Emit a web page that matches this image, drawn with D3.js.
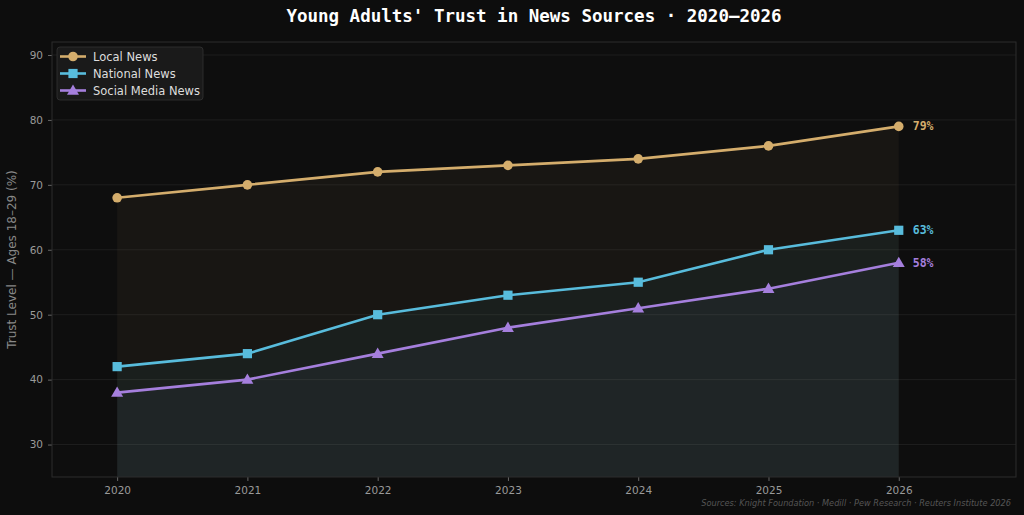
<!DOCTYPE html>
<html>
<head>
<meta charset="utf-8">
<script src="https://cdn.jsdelivr.net/npm/d3@7"></script>
<style>
  html, body { margin: 0; padding: 0; background: #0d0d0d; }
  svg { display: block; }
</style>
</head>
<body>
<svg width="1024" height="515"></svg>
<script>
const years = [2020, 2021, 2022, 2023, 2024, 2025, 2026]
const localNews = [68, 70, 72, 73, 74, 76, 79]
const nationalNews = [42, 44, 50, 53, 55, 60, 63]
const socialNews = [38, 40, 44, 48, 51, 54, 58]
const yTicks = [30, 40, 50, 60, 70, 80, 90]

const seriesList = [
  {name: 'Local News', values: localNews, color: '#d4ad6c', marker: 'circle'},
  {name: 'National News', values: nationalNews, color: '#58bcdc', marker: 'square'},
  {name: 'Social Media News', values: socialNews, color: '#a57fdd', marker: 'triangle'}
]

const svg = d3.select('svg')
const margin = {top: 42, right: 8, bottom: 38, left: 52}
const width = +svg.attr('width') - margin.left - margin.right
const height = +svg.attr('height') - margin.top - margin.bottom

svg.append('rect').attr('width', 1024).attr('height', 515).attr('fill', '#0d0d0d')

const g = svg.append('g').attr('transform', `translate(${margin.left},${margin.top})`)

const x = d3.scaleLinear().domain([2019.5, 2026.9]).range([0, width])
const y = d3.scaleLinear().domain([25, 92]).range([height, 0])

g.append('rect').attr('width', width).attr('height', height).attr('fill', '#0e0e0e')

// grid
g.append('g')
  .selectAll('line')
  .data(yTicks)
  .join('line')
  .attr('x1', 0).attr('x2', width)
  .attr('y1', (d) => y(d)).attr('y2', (d) => y(d))
  .attr('stroke', '#222')
  .attr('stroke-width', 0.8)

// fills
const area = d3.area()
  .x((d, i) => x(years[i]))
  .y0(y(25))
  .y1((d) => y(d))

const fillColors = ['#d4ad6c', '#4fd0e0', '#8aa0d0']
seriesList.forEach((s, i) => {
  g.append('path')
    .datum(s.values)
    .attr('d', area)
    .attr('fill', fillColors[i])
    .attr('fill-opacity', 0.05)
})

// axes
const xAxis = g.append('g')
  .attr('transform', `translate(0,${height})`)
  .call(d3.axisBottom(x).tickValues(years).tickFormat(d3.format('d')).tickSize(4).tickPadding(6))
const yAxis = g.append('g')
  .call(d3.axisLeft(y).tickValues(yTicks).tickSize(4).tickPadding(5))

;[xAxis, yAxis].forEach((a) => {
  a.select('.domain').remove()
  a.selectAll('.tick line').attr('stroke', '#666')
  a.selectAll('.tick text')
    .attr('fill', '#9a9a9a')
    .style('font-family', 'DejaVu Sans, sans-serif')
    .style('font-size', '10.5px')
})

// spines
g.append('rect')
  .attr('width', width).attr('height', height)
  .attr('fill', 'none')
  .attr('stroke', '#2c2c2c')
  .attr('stroke-width', 1)

// lines + markers
const line = d3.line()
  .x((d, i) => x(years[i]))
  .y((d) => y(d))

function drawMarker (sel, type, color, cx, cy) {
  if (type === 'circle') {
    sel.append('circle').attr('cx', cx).attr('cy', cy).attr('r', 4.8).attr('fill', color)
  } else if (type === 'square') {
    sel.append('rect').attr('x', cx - 4.6).attr('y', cy - 4.6).attr('width', 9.2).attr('height', 9.2).attr('fill', color)
  } else {
    sel.append('path')
      .attr('d', d3.symbol().type(d3.symbolTriangle).size(62)())
      .attr('transform', `translate(${cx},${cy + 0.8})`)
      .attr('fill', color)
  }
}

seriesList.forEach((s) => {
  g.append('path')
    .datum(s.values)
    .attr('d', line)
    .attr('fill', 'none')
    .attr('stroke', s.color)
    .attr('stroke-width', 2.6)
  const mg = g.append('g')
  s.values.forEach((v, i) => drawMarker(mg, s.marker, s.color, x(years[i]), y(v)))

  const last = s.values[s.values.length - 1]
  g.append('text')
    .attr('x', x(years[years.length - 1]) + 14)
    .attr('y', y(last))
    .attr('dy', '0.35em')
    .attr('fill', s.color)
    .style('font-family', 'DejaVu Sans Mono, monospace')
    .style('font-weight', 'bold')
    .style('font-size', '11.5px')
    .text(last + '%')
})

// legend
const legend = g.append('g').attr('transform', 'translate(5,5)')
legend.append('rect')
  .attr('width', 146).attr('height', 53)
  .attr('rx', 3)
  .attr('fill', '#1a1a1a')
  .attr('stroke', '#333')
  .attr('stroke-width', 0.8)
seriesList.forEach((s, i) => {
  const ly = 9.5 + i * 17
  legend.append('line')
    .attr('x1', 3).attr('x2', 29)
    .attr('y1', ly).attr('y2', ly)
    .attr('stroke', s.color).attr('stroke-width', 2.6)
  drawMarker(legend, s.marker, s.color, 16, ly)
  legend.append('text')
    .attr('x', 36).attr('y', ly)
    .attr('dy', '0.35em')
    .attr('fill', '#dddddd')
    .style('font-family', 'DejaVu Sans, sans-serif')
    .style('font-size', '11.5px')
    .text(s.name)
})

// y label
svg.append('text')
  .attr('transform', `translate(16,${margin.top + height / 2}) rotate(-90)`)
  .attr('text-anchor', 'middle')
  .attr('fill', '#888')
  .style('font-family', 'DejaVu Sans, sans-serif')
  .style('font-size', '12px')
  .text('Trust Level — Ages 18–29 (%)')

// title
svg.append('text')
  .attr('x', margin.left + width / 2)
  .attr('y', 22)
  .attr('text-anchor', 'middle')
  .attr('fill', '#ffffff')
  .style('font-family', 'DejaVu Sans Mono, monospace')
  .style('font-weight', 'bold')
  .style('font-size', '17.5px')
  .text("Young Adults' Trust in News Sources · 2020–2026")

// source
svg.append('text')
  .attr('x', 1011)
  .attr('y', 506)
  .attr('text-anchor', 'end')
  .attr('fill', '#555')
  .style('font-family', 'DejaVu Sans, sans-serif')
  .style('font-style', 'italic')
  .style('font-size', '8.2px')
  .text('Sources: Knight Foundation · Medill · Pew Research · Reuters Institute 2026')
</script>
</body>
</html>
